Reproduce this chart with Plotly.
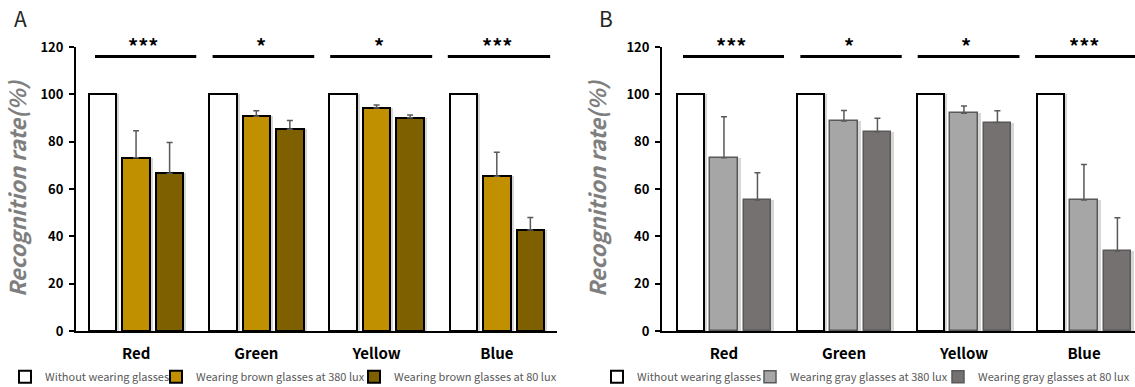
import plotly.graph_objects as go

categories = ["Red", "Green", "Yellow", "Blue"]

# Panel A (brown glasses)
a_without = [100, 100, 100, 100]
a_380 = [73.2, 90.7, 94.2, 65.4]
a_380_err = [11.4, 2.4, 1.3, 10.1]
a_80 = [66.6, 85.2, 90.1, 42.7]
a_80_err = [13.0, 3.7, 1.2, 5.3]

# Panel B (gray glasses)
b_without = [100, 100, 100, 100]
b_380 = [73.2, 88.7, 92.0, 55.3]
b_380_err = [17.3, 4.5, 3.1, 15.0]
b_80 = [55.3, 84.2, 88.1, 33.8]
b_80_err = [11.6, 5.7, 5.0, 14.1]

sig_a = ["***", "*", "*", "***"]
sig_b = ["***", "*", "*", "***"]

names_a = ["Without wearing glasses", "Wearing brown glasses at 380 lux", "Wearing brown glasses at 80 lux"]
names_b = ["Without wearing glasses", "Wearing gray glasses at 380 lux", "Wearing gray glasses at 80 lux"]

W, H = 1135, 387
FONT = "Noto Sans CJK KR, Noto Sans, sans-serif"

fig = go.Figure()

BW = 0.229
OFFS = [-0.394, -0.115, 0.164]
SH = 0.025


def add_panel(xa, ya, series, errs, names, fills, lines, lwidths, legends):
    # drop shadows
    for k, vals in enumerate(series):
        fig.add_trace(go.Bar(
            x=categories, y=vals, xaxis=xa, yaxis=ya, offset=OFFS[k] + SH, width=BW,
            marker=dict(color="rgba(0,0,0,0.16)", line=dict(width=0)),
            showlegend=False, hoverinfo="skip"))
    for k, vals in enumerate(series):
        err = errs[k]
        fig.add_trace(go.Bar(
            x=categories, y=vals, xaxis=xa, yaxis=ya, offset=OFFS[k], width=BW,
            name=names[k], legend=legends[k],
            marker=dict(color=fills[k], line=dict(color=lines[k], width=lwidths[k])),
            error_y=(dict(type="data", array=err, arrayminus=[0] * len(err), symmetric=False,
                          color="#595959", thickness=1.5, width=3) if err is not None
                     else dict(visible=False)),
        ))


add_panel("x", "y", [a_without, a_380, a_80], [None, a_380_err, a_80_err], names_a,
          ["#FFFFFF", "#C09000", "#7F6000"], ["#000000", "#000000", "#000000"], [2, 2, 2],
          ["legend", "legend2", "legend3"])
add_panel("x2", "y2", [b_without, b_380, b_80], [None, b_380_err, b_80_err], names_b,
          ["#FFFFFF", "#A6A6A6", "#767171"], ["#000000", "#595959", "#595959"], [2, 1.5, 1.5],
          ["legend4", "legend5", "legend6"])

shapes = []
annotations = []
for xr, yr, sig in (("x", "y", sig_a), ("x2", "y2", sig_b)):
    for i, s in enumerate(sig):
        x0 = i - 0.342 - 0.022 * i
        x1 = i + 0.5 - 0.019 * i
        shapes.append(dict(type="line", xref=xr, yref=yr, x0=x0, x1=x1, y0=116, y1=116,
                           line=dict(color="black", width=3)))
        annotations.append(dict(xref=xr, yref="paper", x=(x0 + x1) / 2 - 0.02, y=1 - 46 / H,
                                text=s, showarrow=False, yanchor="middle",
                                font=dict(family=FONT, size=20, color="black", weight="bold")))

for txt, xp in (("A", 20), ("B", 606)):
    annotations.append(dict(xref="paper", yref="paper", x=xp / W, y=1 - 18 / H, text=txt,
                            showarrow=False, xanchor="center", yanchor="middle",
                            font=dict(family=FONT, size=21, color="#262626")))

y0, y1 = 56 / H, 340 / H
axis_common_y = dict(range=[0, 120], dtick=20, ticks="outside", ticklen=5, tickwidth=1.5,
                     tickcolor="black", showline=True, linecolor="black", linewidth=2,
                     showgrid=False, zeroline=False, domain=[y0, y1], ticklabelstandoff=3,
                     tickfont=dict(family=FONT, size=13, color="black", weight="bold"),
                     title=dict(text="Recognition rate(%)", standoff=14,
                                font=dict(family=FONT, size=22, color="#7F7F7F",
                                          style="italic", weight="bold")))
axis_common_x = dict(type="category", showline=True, linecolor="black", linewidth=2,
                     ticks="", showgrid=False, ticklabelstandoff=8,
                     tickfont=dict(family=FONT, size=15, color="black", weight="bold"))

legend_base = dict(orientation="h", yanchor="middle", y=1 - 376.7 / H, xanchor="left",
                   bgcolor="rgba(0,0,0,0)", font=dict(family=FONT, size=11, color="#595959"),
                   borderwidth=0)
# text start of each legend entry (px)
text_starts = [45, 196, 394, 637, 790, 978]
leg = {}
for j, ts in enumerate(text_starts):
    key = "legend" if j == 0 else f"legend{j + 1}"
    leg[key] = dict(legend_base, x=(ts - 40) / W)

fig.update_layout(
    width=W, height=H, margin=dict(l=0, r=0, t=0, b=0, autoexpand=False),
    paper_bgcolor="white", plot_bgcolor="white",
    barmode="overlay", bargap=0,
    xaxis=dict(axis_common_x, domain=[76 / W, 557 / W], range=[-0.5, 3.5], anchor="y"),
    yaxis=dict(axis_common_y, anchor="x"),
    xaxis2=dict(axis_common_x, domain=[662 / W, 1.0], range=[-0.517, 3.425], anchor="y2"),
    yaxis2=dict(axis_common_y, anchor="x2"),
    shapes=shapes, annotations=annotations,
    showlegend=True,
    **leg,
)

fig.write_html("out.html", config={"displayModeBar": False},
               post_script="document.body.style.margin='0';")
